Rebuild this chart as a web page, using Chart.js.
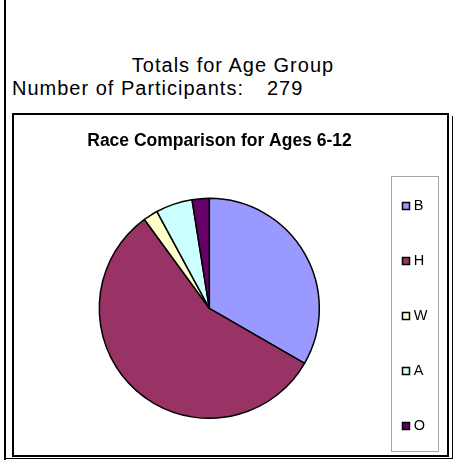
<!DOCTYPE html>
<html><head><meta charset="utf-8">
<script src="https://cdn.jsdelivr.net/npm/chart.js@4.4.1/dist/chart.umd.min.js"></script>
<style>
html,body{margin:0;padding:0;background:#fff;width:456px;height:460px;overflow:hidden;font-family:"Liberation Sans",Arial,sans-serif;color:#000}
.abs{position:absolute}
#lineL{left:4px;top:0;width:2px;height:460px;background:#000}
#box{left:12px;top:113px;width:433px;height:340px;border:2px solid #000}
#shR{left:452px;top:116px;width:1px;height:343px;background:#000}
#shB{left:4px;top:458px;width:449px;height:1px;background:#000}
.big{font-size:20px;line-height:20px;letter-spacing:1px;white-space:pre}
#t1{left:0;width:466px;text-align:center;top:55px}
#t2{left:12px;top:78px}
#t3{left:267px;top:78px}
#cv{left:14px;top:115px}
</style></head>
<body>
<div class="abs" id="lineL"></div>
<div class="abs" id="box"></div>
<div class="abs" id="shR"></div>
<div class="abs" id="shB"></div>
<div class="abs big" id="t1"></div>
<div class="abs big" id="t2"></div>
<div class="abs big" id="t3"></div>
<canvas class="abs" id="cv" width="434" height="340"></canvas>
<script>
// ---- data ----
const headerTitle = 'Totals for Age Group';
const participantsLabel = 'Number of Participants:';
const participantsTotal = 279;
const chartTitle = 'Race Comparison for Ages 6-12';
const categories = ['B', 'H', 'W', 'A', 'O'];
const counts = [93, 158, 6, 15, 7];
const sliceColors = ['#9999FF', '#993366', '#FFFFCC', '#CCFFFF', '#660066'];

document.getElementById('t1').textContent = headerTitle;
document.getElementById('t2').textContent = participantsLabel;
document.getElementById('t3').textContent = String(participantsTotal);

// ---- legend placement ----
const LEG_FONT = 14.5;
const LEG = {x: 391.5, firstTop: 91 - LEG_FONT / 2, pad: 55 - LEG_FONT, w: 20.4};
const FRAME = {x: 377.5, y: 61.5, w: 47, h: 275};

const legendPlace = {
  id: 'legendPlace',
  beforeInit(chart) {
    const lg = chart.legend;
    const orig = lg.fit;
    lg.fit = function () { orig.call(this); this.width = LEG.w; };
  },
  afterLayout(chart) {
    const lg = chart.legend;
    lg.left = LEG.x - LEG.pad;
    lg.width = 90;
    lg.right = lg.left + lg.width;
    lg.top = LEG.firstTop - LEG.pad;
    lg.height = 420;
    lg.bottom = lg.top + 420;
  },
  beforeDraw(chart) {
    const ctx = chart.ctx;
    ctx.save();
    ctx.strokeStyle = '#a6a6a6';
    ctx.lineWidth = 1;
    ctx.strokeRect(FRAME.x, FRAME.y, FRAME.w, FRAME.h);
    ctx.restore();
  }
};

const FONT = '"Liberation Sans", Arial, sans-serif';

new Chart(document.getElementById('cv'), {
  type: 'pie',
  data: {
    labels: categories,
    datasets: [{
      data: counts,
      backgroundColor: sliceColors,
      borderColor: '#000',
      borderWidth: 1.5,
      radius: 110
    }]
  },
  options: {
    responsive: false,
    devicePixelRatio: 1,
    animation: false,
    events: [],
    layout: {padding: {left: 0, right: 23, top: 0, bottom: 0}},
    plugins: {
      title: {
        display: true,
        text: chartTitle,
        color: '#000',
        font: {family: FONT, size: 17.5, weight: 'bold'},
        padding: {top: 16, bottom: 9.6}
      },
      legend: {
        display: true,
        position: 'right',
        align: 'start',
        labels: {
          color: '#000',
          font: {family: FONT, size: LEG_FONT},
          usePointStyle: true,
          boxWidth: 1,
          boxHeight: 7,
          padding: LEG.pad,
          generateLabels(chart) {
            return chart.data.labels.map((text, i) => ({
              text,
              fillStyle: chart.data.datasets[0].backgroundColor[i],
              strokeStyle: '#000',
              lineWidth: 1.5,
              pointStyle: 'rect',
              fontColor: '#000',
              hidden: false,
              index: i
            }));
          }
        }
      },
      tooltip: {enabled: false}
    }
  },
  plugins: [legendPlace]
});
</script>
</body></html>
